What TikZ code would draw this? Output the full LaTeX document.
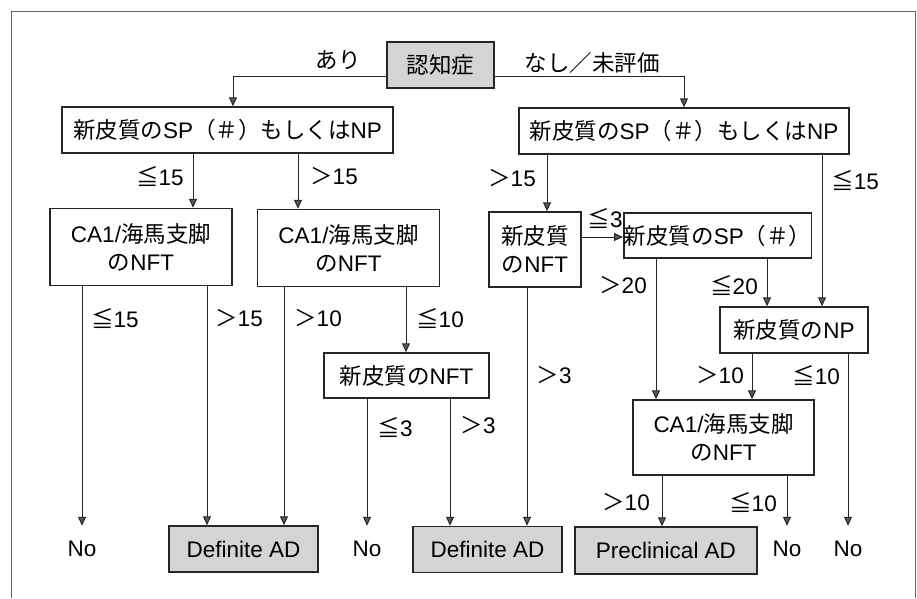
\documentclass[tikz,border=0pt]{standalone}
\usepackage{fontspec}
\setmainfont{Noto Sans CJK JP}
\newfontfamily\lat{Liberation Sans}
\usetikzlibrary{arrows.meta}
\begin{document}
\begin{tikzpicture}[x=1pt,y=-1pt,
  box/.style={draw=black!85, line width=1.5pt, inner sep=0pt, align=center,
    font=\fontsize{22.5}{28}\selectfont},
  gbox/.style={box, fill=black!17},
  lbl/.style={inner sep=0pt, font=\fontsize{22.5}{27}\selectfont},
  arr/.style={draw=black!85, line width=1pt, -{Triangle[length=9pt,width=8pt,fill=black!65]}}]
\useasboundingbox (0,0) rectangle (917,598);
\draw[black!60, line width=0.8pt] (11,598) -- (11,11) -- (915,11) -- (915,598);

% boxes
\node[gbox, minimum width=107pt, minimum height=46pt] (ninchi) at (440.5,65) {認知症};
\node[box, minimum width=331pt, minimum height=46pt] (npL) at (227.5,130) {新皮質の{\lat SP}（＃）もしくは{\lat NP}};
\node[box, minimum width=330pt, minimum height=46pt] (npR) at (684,131) {新皮質の{\lat SP}（＃）もしくは{\lat NP}};
\node[box, minimum width=182pt, minimum height=77pt] (caL1) at (141,247) {{\lat CA1/}海馬支脚\\の{\lat NFT}};
\node[box, minimum width=182pt, minimum height=77pt] (caL2) at (348.5,248) {{\lat CA1/}海馬支脚\\の{\lat NFT}};
\node[box, minimum width=165pt, minimum height=45pt] (nftM) at (406.5,375.5) {新皮質の{\lat NFT}};
\node[box, minimum width=92pt, minimum height=75pt] (nftR) at (535,249.5) {新皮質\\の{\lat NFT}};
\node[box, minimum width=181pt, minimum height=45pt] (spR) at (717.5,235.5) {新皮質の{\lat SP}（＃）};
\node[box, minimum width=148pt, minimum height=46pt] (npR2) at (794,330) {新皮質の{\lat NP}};
\node[box, minimum width=181pt, minimum height=75pt] (caR) at (723.5,437.5) {{\lat CA1/}海馬支脚\\の{\lat NFT}};
\node[gbox, minimum width=149pt, minimum height=46pt] (defL) at (243.5,549) {\lat Definite AD};
\node[gbox, minimum width=149pt, minimum height=46pt] (defM) at (487.5,549.5) {\lat Definite AD};
\node[gbox, minimum width=182pt, minimum height=47pt] (pre) at (666,550.5) {\lat Preclinical AD};
\node[lbl, minimum height=46pt] (no1) at (82,549) {\lat No};
\node[lbl, minimum height=46pt] (no2) at (367,549) {\lat No};
\node[lbl, minimum height=46pt] (no3) at (787,549) {\lat No};
\node[lbl, minimum height=46pt] (no4) at (848,549) {\lat No};

% connectors
\draw[arr] (ninchi.west |- 0,76) -| (npL.north -| 233,0);
\draw[arr] (ninchi.east |- 0,76) -| (npR.north -| 684,0);
\draw[arr] (npL.south -| 193,0) -- (caL1.north -| 193,0);
\draw[arr] (npL.south -| 298,0) -- (caL2.north -| 298,0);
\draw[arr] (caL1.south -| 82,0) -- (no1.north -| 82,0);
\draw[arr] (caL1.south -| 207,0) -- (defL.north -| 207,0);
\draw[arr] (caL2.south -| 284,0) -- (defL.north -| 284,0);
\draw[arr] (caL2.south -| 406,0) -- (nftM.north -| 406,0);
\draw[arr] (nftM.south -| 367,0) -- (no2.north -| 367,0);
\draw[arr] (nftM.south -| 450,0) -- (defM.north -| 450,0);
\draw[arr] (npR.south -| 547,0) -- (nftR.north -| 547,0);
\draw[arr] (npR.south -| 822,0) -- (npR2.north -| 822,0);
\draw[arr] (nftR.east |- 0,237) -- (spR.west |- 0,237);
\draw[arr] (nftR.south -| 527,0) -- (defM.north -| 527,0);
\draw[arr] (spR.south -| 656,0) -- (caR.north -| 656,0);
\draw[arr] (spR.south -| 767,0) -- (npR2.north -| 767,0);
\draw[arr] (npR2.south -| 752,0) -- (caR.north -| 752,0);
\draw[arr] (npR2.south -| 848,0) -- (no4.north -| 848,0);
\draw[arr] (caR.south -| 662,0) -- (pre.north -| 662,0);
\draw[arr] (caR.south -| 787,0) -- (no3.north -| 787,0);

% labels
\node[lbl] (la1) at (338,60) {あり};
\node[lbl] (la2) at (592,63) {なし／未評価};
\node[lbl] (la3) at (160,176) {≦{\lat 15}};
\node[lbl] (la4) at (334,176) {＞{\lat 15}};
\node[lbl] (la5) at (115,318) {≦{\lat 15}};
\node[lbl] (la6) at (239,318) {＞{\lat 15}};
\node[lbl] (la7) at (318,318) {＞{\lat 10}};
\node[lbl] (la8) at (440,318) {≦{\lat 10}};
\node[lbl] (la9) at (395,427) {≦{\lat 3}};
\node[lbl] (la10) at (478,425) {＞{\lat 3}};
\node[lbl] (la11) at (512,178) {＞{\lat 15}};
\node[lbl] (la12) at (855,180) {≦{\lat 15}};
\node[lbl] (la13) at (605,218) {≦{\lat 3}};
\node[lbl] (la14) at (554,375) {＞{\lat 3}};
\node[lbl] (la15) at (623,285) {＞{\lat 20}};
\node[lbl] (la16) at (734,285) {≦{\lat 20}};
\node[lbl] (la17) at (720,375) {＞{\lat 10}};
\node[lbl] (la18) at (816,375) {≦{\lat 10}};
\node[lbl] (la19) at (626,502) {＞{\lat 10}};
\node[lbl] (la20) at (753,502) {≦{\lat 10}};
\end{tikzpicture}
\end{document}
